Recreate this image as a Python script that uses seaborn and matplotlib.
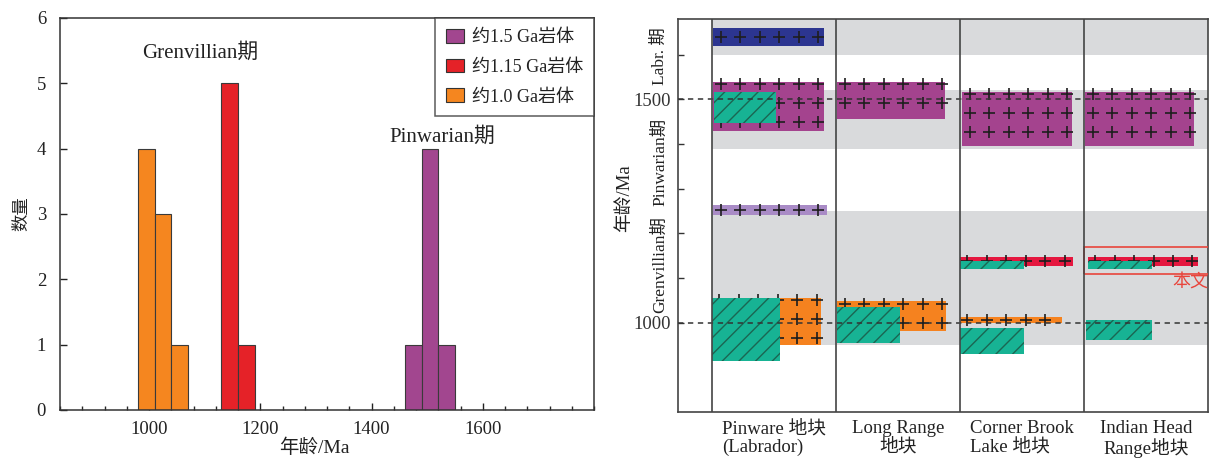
import numpy as np
import matplotlib
matplotlib.use("Agg")
import matplotlib.pyplot as plt
import matplotlib.transforms as mtransforms
from matplotlib.patches import Patch
from matplotlib.ticker import MultipleLocator, FixedLocator
import seaborn as sns

# ---------------- data: left histogram ----------------
bin_width = 30
bins_15 = [1460, 1490, 1520]
counts_15 = [1, 4, 1]
bins_115 = [1130, 1160]
counts_115 = [5, 1]
bins_10 = [980, 1010, 1040]
counts_10 = [4, 3, 1]
hist_labels = ["约1.5 Ga岩体", "约1.15 Ga岩体", "约1.0 Ga岩体"]
period_labels = ["Grenvillian期", "Pinwarian期"]
age_ticks = [1000, 1200, 1400, 1600]

# ---------------- data: right age-range chart ----------------
blocks = ["Pinware 地块\n(Labrador)", "Long Range\n地块",
          "Corner Brook\nLake 地块", "Indian Head\nRange地块"]
range_block = [0, 0, 0, 0, 0, 0, 1, 1, 1, 2, 2, 2, 2, 2, 3, 3, 3, 3]
range_kind = ["labr", "p15", "teal", "lp", "o10", "teal",
              "p15", "o10", "teal",
              "p15", "r115", "teal", "o10", "teal",
              "p15", "r115", "teal", "teal"]
range_min = [1620, 1430, 1447, 1242, 949, 914,
             1455, 981, 954,
             1396, 1128, 1120, 999, 930,
             1396, 1128, 1120, 961]
range_max = [1660, 1540, 1517, 1263, 1056, 1056,
             1540, 1048, 1034,
             1517, 1146, 1137, 1012, 988,
             1517, 1146, 1137, 1005]
band_names = ["Labr. 期", "Pinwarian期", "Grenvillian期"]
band_min = [1600, 1390, 950]
band_max = [1700, 1520, 1250]
ref_ages = [1000, 1500]
this_study_min, this_study_max = 1110, 1170
this_study_label = "本文"

# ---------------- layout / style ----------------
range_x0 = [0.01, 0.01, 0.02, 0.01, 0.00, 0.00,
            0.01, 0.01, 0.01,
            0.02, 0.00, 0.00, 0.00, 0.00,
            0.01, 0.03, 0.03, 0.02]
range_x1 = [0.90, 0.90, 0.52, 0.93, 0.88, 0.55,
            0.88, 0.89, 0.52,
            0.90, 0.91, 0.52, 0.82, 0.52,
            0.89, 0.92, 0.55, 0.55]
band_label_y = [1597, 1361, 1130]
kind_color = {"labr": "#2c3590", "p15": "#a4438e", "teal": "#17b394",
              "lp": "#a98bc6", "o10": "#f5821f", "r115": "#e5173f"}
hist_colors = ["#a2468f", "#e52228", "#f5861f"]

sns.set_style("ticks")
plt.rcParams["font.family"] = ["Liberation Serif", "Noto Sans CJK SC"]
plt.rcParams["axes.unicode_minus"] = False
plt.rcParams["hatch.linewidth"] = 1.0
TXT = "#222222"

W, H = 1210, 459
fig = plt.figure(figsize=(W / 100, H / 100), dpi=100)
ax1 = fig.add_axes([60 / W, 49 / H, 534 / W, 392 / H])
ax2 = fig.add_axes([678 / W, 47 / H, 530 / W, 393 / H])

# ================= left panel =================
groups = [(bins_15, counts_15), (bins_115, counts_115), (bins_10, counts_10)]
for (starts, counts), col in zip(groups, hist_colors):
    edges = list(starts) + [starts[-1] + bin_width]
    centers = [s + bin_width / 2 for s in starts]
    sns.histplot(x=centers, weights=counts, bins=edges, color=col,
                 edgecolor="#3a3a3a", linewidth=0.8, alpha=1, ax=ax1)

ax1.set_xlim(840, 1800)
ax1.set_ylim(0, 6)
ax1.xaxis.set_major_locator(FixedLocator(age_ticks))
ax1.xaxis.set_minor_locator(MultipleLocator(40))
ax1.yaxis.set_major_locator(MultipleLocator(1))
ax1.tick_params(axis="both", which="major", direction="in", length=5,
                width=1, labelsize=13.5, colors=TXT)
ax1.tick_params(axis="x", which="minor", direction="in", length=3, width=1)
ax1.tick_params(axis="y", pad=10)
ax1.tick_params(axis="x", pad=8)
ax1.set_xlabel("")
ax1.set_ylabel("")
for sp in ax1.spines.values():
    sp.set_visible(True)
    sp.set_color("#333333")
    sp.set_linewidth(1.1)
ax1.text(0.476, -0.097, "年龄/Ma", transform=ax1.transAxes, ha="center",
         va="center", fontsize=14, color=TXT)
ax1.text(-0.071, 0.5, "数量", transform=ax1.transAxes, ha="center",
         va="center", rotation=90, fontsize=12.5, color=TXT)
ax1.text(1092, 5.46, period_labels[0], ha="center", va="center",
         fontsize=15, color=TXT)
ax1.text(1527, 4.18, period_labels[1], ha="center", va="center",
         fontsize=15, color=TXT)

handles = [Patch(facecolor=c, edgecolor="#333333", linewidth=0.8)
           for c in hist_colors]
leg = ax1.legend(handles, hist_labels, loc="upper right", borderaxespad=0,
                 frameon=True, fancybox=False, fontsize=13,
                 handlelength=1.0, handleheight=0.8, handletextpad=0.45,
                 labelspacing=0.7, borderpad=0.6)
leg.get_frame().set_edgecolor("#333333")
leg.get_frame().set_linewidth(1.1)
for t in leg.get_texts():
    t.set_color(TXT)

# ================= right panel =================
ax2.set_xlim(-0.274, 4.0)
ax2.set_ylim(800, 1680)
x_left_frac = (0 - (-0.274)) / (4.0 - (-0.274))

for lo, hi in zip(band_min, band_max):
    ax2.axhspan(lo, hi, xmin=x_left_frac, xmax=1, color="#d9dadc",
                lw=0, zorder=0)

plus_x, plus_y = [], []
teal_idx = []
for i, kind in enumerate(range_kind):
    b = range_block[i]
    x0 = b + range_x0[i]
    x1 = b + range_x1[i]
    lo, hi = range_min[i], range_max[i]
    if kind == "teal":
        teal_idx.append(i)
        continue
    ax2.bar(x0, hi - lo, bottom=lo, width=x1 - x0, align="edge",
            color=kind_color[kind], linewidth=0, zorder=2)
    xs = np.arange(x0 + 0.06, x1 - 0.02, 0.157)
    if hi - lo < 50:
        ys = np.array([(hi + lo) / 2])
    else:
        ys = np.arange(hi - 6, lo + 4, -42)
    for yv in ys:
        plus_x.extend(xs)
        plus_y.extend([yv] * len(xs))

ax2.scatter(plus_x, plus_y, marker="+", s=65, color="#1e1e1e",
            linewidths=1.2, zorder=3)

for i in teal_idx:
    b = range_block[i]
    x0 = b + range_x0[i]
    x1 = b + range_x1[i]
    lo, hi = range_min[i], range_max[i]
    ax2.bar(x0, hi - lo, bottom=lo, width=x1 - x0, align="edge",
            color=kind_color["teal"], edgecolor="#1b6652", linewidth=0,
            hatch="//", zorder=4)

for a in ref_ages:
    ax2.axhline(a, color="#333333", lw=1.1, ls=(0, (3.5, 3)), zorder=6)

for d in range(len(blocks)):
    ax2.axvline(d, color="#444444", lw=1.2, zorder=7)

# this-study box
ax2.bar(3.0, this_study_max - this_study_min, bottom=this_study_min,
        width=1.1, align="edge", fill=False, edgecolor="#e8453c",
        linewidth=1.2, zorder=5, clip_on=True)
ax2.text(3.855, 1089, this_study_label, ha="center", va="center",
         fontsize=13, color="#e8453c", zorder=8)

ax2.set_xticks([0.5, 1.5, 2.5, 3.5])
ax2.set_xticklabels(blocks, fontsize=13.5, color=TXT, linespacing=1.05)
ax2.tick_params(axis="x", length=0, pad=6)
for lab, ma in zip(ax2.get_xticklabels(), ["left", "center", "left", "center"]):
    lab.set_multialignment(ma)
ax2.yaxis.set_major_locator(FixedLocator(ref_ages))
ax2.yaxis.set_minor_locator(FixedLocator([1100, 1200, 1300, 1400, 1600]))
ax2.tick_params(axis="y", which="both", direction="in", length=4, width=1,
                labelsize=13.5, colors="#333333", pad=5)
for sp in ax2.spines.values():
    sp.set_visible(True)
    sp.set_color("#444444")
    sp.set_linewidth(1.2)

btrans = mtransforms.blended_transform_factory(ax2.transAxes, ax2.transData)
for name, yv in zip(band_names, band_label_y):
    ax2.text(-0.034, yv, name, transform=btrans, rotation=90, ha="center",
             va="center", fontsize=12.5, color=TXT)
ax2.text(-0.1, 1279, "年龄/Ma", transform=btrans, rotation=90, ha="center",
         va="center", fontsize=13.5, color=TXT)

fig.savefig("out.png", dpi=100)
